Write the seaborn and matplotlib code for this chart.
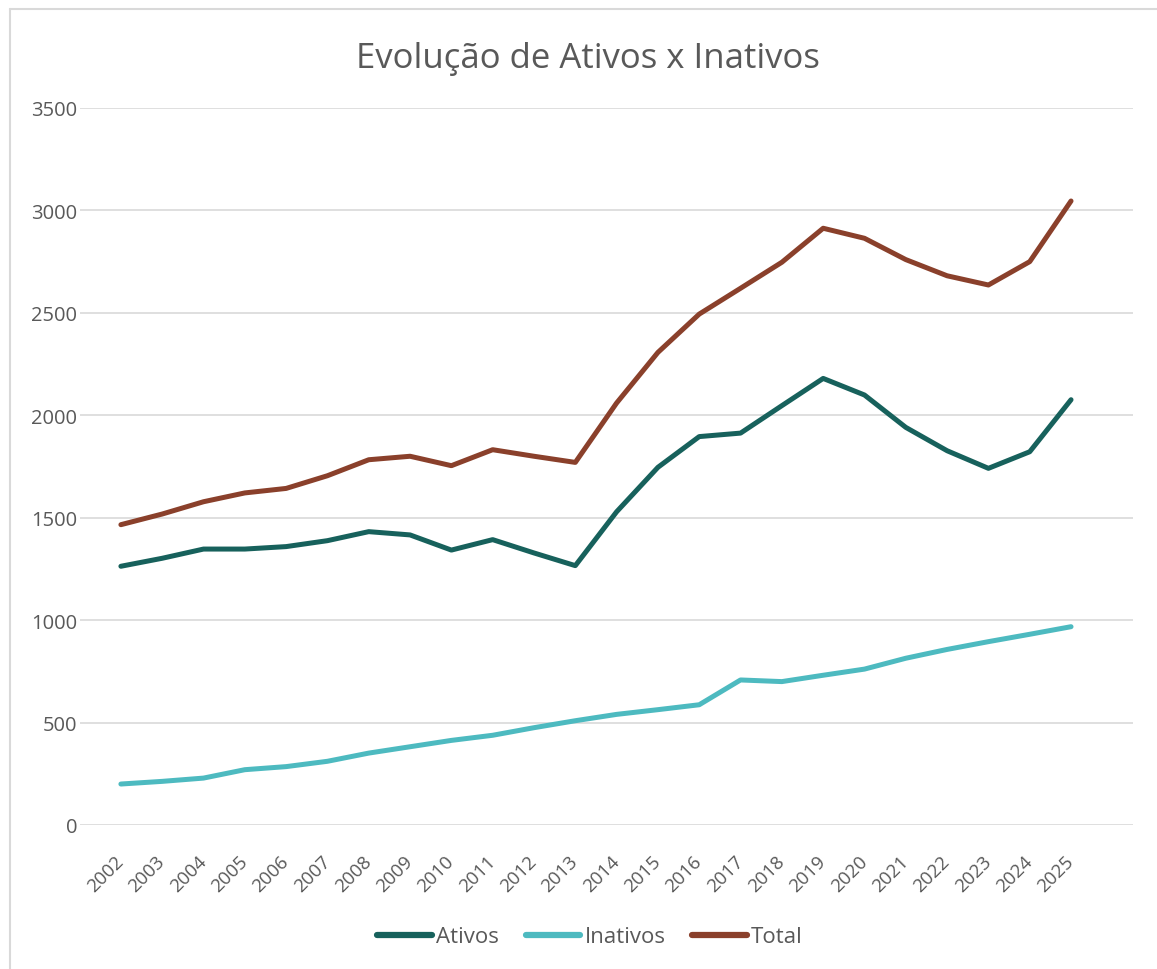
import numpy as np
import pandas as pd
import matplotlib.pyplot as plt
import seaborn as sns
from matplotlib.lines import Line2D

# Data
anos = [str(a) for a in range(2002, 2026)]
ativos = [1263, 1302, 1347, 1347, 1359, 1388, 1432, 1416, 1342, 1393, 1328, 1266,
          1529, 1746, 1896, 1913, 2047, 2180, 2099, 1941, 1827, 1741, 1822, 2076]
inativos = [200, 213, 229, 270, 285, 311, 351, 382, 413, 438, 475, 509,
            540, 563, 587, 708, 700, 731, 761, 814, 857, 895, 931, 968]
total = [1466, 1518, 1578, 1621, 1643, 1705, 1783, 1800, 1754, 1832, 1800, 1770,
         2060, 2307, 2494, 2620, 2747, 2913, 2864, 2760, 2681, 2636, 2750, 3046]

series = ['Ativos', 'Inativos', 'Total']
cores = ['#17615C', '#4DBAC0', '#8A402B']

df = pd.DataFrame({'Ano': anos, 'Ativos': ativos, 'Inativos': inativos, 'Total': total})
long_df = df.melt(id_vars='Ano', var_name='Serie', value_name='Valor')

sns.set_style('white')
plt.rcParams['font.family'] = ['Open Sans', 'DejaVu Sans']
texto = '#595959'

fig = plt.figure(figsize=(11.57, 9.70), dpi=100)
ax = fig.add_axes([80 / 1157, 1 - 826 / 970, 1053 / 1157, 717 / 970])

sns.lineplot(data=long_df, x='Ano', y='Valor', hue='Serie', hue_order=series,
             palette=cores, linewidth=3.6, sort=False, ax=ax, legend=False)

ax.set_ylim(0, 3500)
ax.set_yticks(np.arange(0, 3501, 500))
ax.set_xlim(-0.99, 24.5)
ax.grid(axis='y', color='#D9D9D9', linewidth=1.2)
ax.grid(axis='x', visible=False)
ax.set_axisbelow(True)
for s in ax.spines.values():
    s.set_visible(False)
ax.set_xlabel('')
ax.set_ylabel('')
ax.tick_params(axis='both', length=0, labelcolor=texto)
ax.tick_params(axis='y', pad=2, labelsize=14.5)
ax.tick_params(axis='x', pad=24, labelsize=13.5)
for lbl in ax.get_xticklabels():
    lbl.set_rotation(45)
    lbl.set_ha('right')
    lbl.set_va('center')
    lbl.set_rotation_mode('anchor')

fig.text(587.5 / 1157, 1 - 68 / 970, 'Evolução de Ativos x Inativos', ha='center',
         va='baseline', fontsize=25, color=texto)

handles = [Line2D([0], [0], color=c, linewidth=4.5, solid_capstyle='round') for c in cores]
fig.legend(handles, series, loc='center', bbox_to_anchor=(590 / 1157, 1 - 938 / 970), ncol=3,
           frameon=False, fontsize=16, labelcolor=texto, handlelength=2.45,
           handletextpad=0.2, columnspacing=1.2)

# chart area border (left and top edges visible)
fig.add_artist(Line2D([9.5 / 1157, 9.5 / 1157], [0, 1 - 10 / 970], color='#D9D9D9',
                      linewidth=1.5, transform=fig.transFigure))
fig.add_artist(Line2D([9.5 / 1157, 1], [1 - 10 / 970, 1 - 10 / 970], color='#D9D9D9',
                      linewidth=1.5, transform=fig.transFigure))

fig.savefig('out.png', dpi=100)
